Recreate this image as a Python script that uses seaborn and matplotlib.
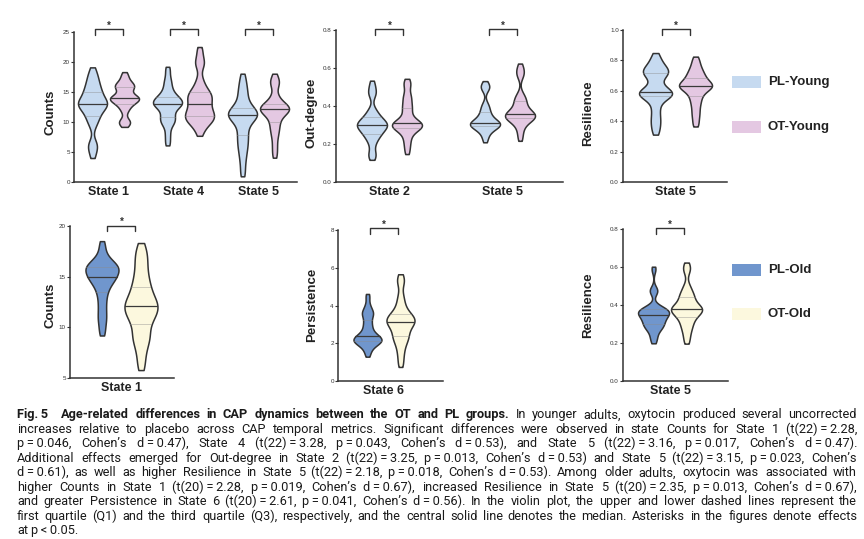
import numpy as np
import pandas as pd
import seaborn as sns
import matplotlib.pyplot as plt
from matplotlib import font_manager
from matplotlib.patches import Rectangle
from matplotlib.transforms import blended_transform_factory

W, H = 864, 539
FONT = ["Liberation Sans", "DejaVu Sans"]
INK = "#333333"

PL_YOUNG, OT_YOUNG = "#c6daf0", "#e4c8e2"
PL_OLD, OT_OLD = "#7096cd", "#fcf8de"

# values: one list per state, PL and OT groups
young_counts_states = ["State 1", "State 4", "State 5"]
young_counts_pl = [
    [4.5, 6.0, 6.3, 9.5, 10.5, 11.0, 11.8, 12.3, 12.7, 12.9, 13.0, 13.2, 13.5, 13.9, 14.5, 15.0, 15.4, 16.0, 16.8, 17.5, 18.6],
    [6.5, 8.0, 9.5, 10.0, 10.5, 10.8, 11.5, 12.2, 12.6, 12.9, 13.0, 13.2, 13.4, 13.6, 13.9, 14.2, 14.6, 15.3, 16.2, 17.2, 18.8],
    [1.5, 3.5, 5.0, 6.0, 7.0, 7.8, 8.8, 9.8, 10.5, 10.8, 11.1, 11.2, 11.4, 11.6, 12.0, 12.3, 13.0, 14.0, 15.0, 16.0, 17.5],
]
young_counts_ot = [
    [9.5, 10.0, 10.2, 11.8, 12.5, 13.0, 13.3, 13.6, 13.8, 13.9, 14.0, 14.1, 14.3, 14.8, 15.5, 15.8, 16.0, 16.2, 16.5, 17.2, 18.0],
    [8.2, 9.5, 10.0, 10.3, 10.6, 11.0, 11.2, 11.5, 12.0, 12.5, 13.0, 13.5, 14.0, 14.3, 14.7, 15.0, 15.8, 17.0, 19.5, 20.2, 22.0],
    [4.5, 6.0, 7.5, 8.5, 9.3, 10.0, 10.8, 11.3, 11.7, 11.9, 12.1, 12.2, 12.3, 12.5, 12.8, 13.0, 13.6, 14.5, 16.3, 16.6, 17.6],
]

young_outdeg_states = ["State 2", "State 5"]
young_outdeg_pl = [
    [0.13, 0.15, 0.20, 0.23, 0.245, 0.255, 0.27, 0.28, 0.29, 0.295, 0.30, 0.305, 0.31, 0.32, 0.33, 0.34, 0.36, 0.38, 0.46, 0.48, 0.52],
    [0.22, 0.25, 0.27, 0.28, 0.29, 0.294, 0.30, 0.303, 0.306, 0.309, 0.312, 0.32, 0.33, 0.34, 0.355, 0.37, 0.39, 0.41, 0.49, 0.50, 0.52],
]
young_outdeg_ot = [
    [0.16, 0.20, 0.23, 0.26, 0.275, 0.285, 0.29, 0.295, 0.30, 0.305, 0.308, 0.31, 0.32, 0.34, 0.37, 0.39, 0.41, 0.44, 0.46, 0.51, 0.53],
    [0.23, 0.27, 0.30, 0.32, 0.33, 0.335, 0.34, 0.345, 0.35, 0.355, 0.358, 0.365, 0.375, 0.39, 0.41, 0.426, 0.44, 0.46, 0.56, 0.58, 0.61],
]

young_resil_states = ["State 5"]
young_resil_pl = [
    [0.33, 0.38, 0.42, 0.47, 0.52, 0.568, 0.57, 0.575, 0.58, 0.585, 0.595, 0.61, 0.64, 0.69, 0.71, 0.72, 0.73, 0.74, 0.76, 0.79, 0.83],
]
young_resil_ot = [
    [0.38, 0.43, 0.47, 0.51, 0.54, 0.568, 0.59, 0.61, 0.62, 0.627, 0.632, 0.637, 0.645, 0.655, 0.67, 0.687, 0.70, 0.72, 0.74, 0.77, 0.81],
]

old_counts_states = ["State 1"]
old_counts_pl = [
    [9.5, 10.5, 11.2, 12.0, 12.8, 13.5, 14.0, 14.4, 14.7, 14.9, 15.0, 15.3, 15.5, 15.7, 15.9, 16.0, 16.1, 16.3, 16.6, 17.2, 18.2],
]
old_counts_ot = [
    [6.2, 7.5, 8.5, 9.0, 9.5, 10.3, 10.8, 11.2, 11.5, 11.8, 12.1, 12.3, 12.6, 13.0, 13.5, 14.0, 14.6, 15.3, 16.2, 17.0, 17.9],
]

old_persist_states = ["State 6"]
old_persist_pl = [
    [1.4, 1.7, 1.9, 2.0, 2.05, 2.1, 2.15, 2.2, 2.25, 2.3, 2.37, 2.45, 2.6, 2.8, 3.0, 3.22, 3.5, 3.6, 3.7, 4.0, 4.5],
]
old_persist_ot = [
    [0.9, 1.4, 1.8, 2.1, 2.3, 2.37, 2.6, 2.8, 2.95, 3.05, 3.13, 3.2, 3.3, 3.35, 3.45, 3.57, 3.8, 4.1, 4.5, 5.2, 5.5],
]

old_resil_states = ["State 5"]
old_resil_pl = [
    [0.21, 0.24, 0.27, 0.28, 0.29, 0.30, 0.31, 0.32, 0.33, 0.34, 0.347, 0.355, 0.36, 0.365, 0.37, 0.377, 0.38, 0.39, 0.47, 0.48, 0.59],
]
old_resil_ot = [
    [0.21, 0.25, 0.28, 0.30, 0.32, 0.338, 0.35, 0.36, 0.37, 0.375, 0.379, 0.385, 0.39, 0.40, 0.42, 0.44, 0.45, 0.47, 0.50, 0.58, 0.61],
]

CAPTION = [
    [("Fig.~5", True), ("Age-related differences in CAP dynamics between the OT and PL groups.", True),
     ("In younger adults, oxytocin produced several uncorrected", False)],
    [("increases relative to placebo across CAP temporal metrics. Significant differences were observed in state Counts for State 1 (t(22)~=~2.28,", False)],
    [("p~=~0.046, Cohen\u2019s d~=~0.47), State 4 (t(22)~=~3.28, p~=~0.043, Cohen\u2019s d~=~0.53), and State 5 (t(22)~=~3.16, p~=~0.017, Cohen\u2019s d~=~0.47).", False)],
    [("Additional effects emerged for Out-degree in State 2 (t(22)~=~3.25, p~=~0.013, Cohen\u2019s d~=~0.53) and State 5 (t(22)~=~3.15, p~=~0.023, Cohen\u2019s", False)],
    [("d~=~0.61), as well as higher Resilience in State 5 (t(22)~=~2.18, p~=~0.018, Cohen\u2019s d~=~0.53). Among older adults, oxytocin was associated with", False)],
    [("higher Counts in State 1 (t(20)~=~2.28, p~=~0.019, Cohen\u2019s d~=~0.67), increased Resilience in State 5 (t(20)~=~2.35, p~=~0.013, Cohen\u2019s d~=~0.67),", False)],
    [("and greater Persistence in State 6 (t(20)~=~2.61, p~=~0.041, Cohen\u2019s d~=~0.56). In the violin plot, the upper and lower dashed lines represent the", False)],
    [("first quartile (Q1) and the third quartile (Q3), respectively, and the central solid line denotes the median. Asterisks in the figures denote effects", False)],
    [("at p~<~0.05.", False)],
]


def pick_caption_font():
    # a narrower sans keeps the caption at its real size
    for name in ["Liberation Sans Narrow", "Roboto", "Liberation Sans"]:
        try:
            font_manager.findfont(name, fallback_to_default=False)
            return [name, "DejaVu Sans"]
        except ValueError:
            continue
    return FONT


def px_axes(fig, left, right, bottom, top):
    return fig.add_axes([left / W, 1 - bottom / H, (right - left) / W, (bottom - top) / H])


def style_inner(ax):
    # seaborn draws q1 / median / q3 per violin; median solid, quartiles dotted
    for i, line in enumerate(ax.lines):
        if i % 3 == 1:
            line.set_linestyle("-")
            line.set_color("#3a3a3a")
            line.set_linewidth(0.9)
        else:
            line.set_linestyle((0, (1.2, 1.2)))
            line.set_color("#8c8c8c")
            line.set_linewidth(0.6)


def draw_panel(fig, box, xlim, states, pl, ot, colors, ylim, yticks, yfmt,
               ylabel, label_xy, offset_px, violin_px, bracket_px, star_y):
    left, right, bottom, top = box
    ax = px_axes(fig, left, right, bottom, top)
    ppu = (right - left) / (xlim[1] - xlim[0])

    rows = []
    for s, a, b in zip(states, pl, ot):
        rows += [(s, "PL", v) for v in a]
        rows += [(s, "OT", v) for v in b]
    df = pd.DataFrame(rows, columns=["state", "group", "value"])

    sns.violinplot(data=df, x="state", y="value", hue="group", order=states,
                   hue_order=["PL", "OT"], palette={"PL": colors[0], "OT": colors[1]},
                   inner="quart", cut=0.5, bw_adjust=0.5, density_norm="width",
                   width=4 * offset_px / ppu, gap=1 - violin_px / (2 * offset_px),
                   linewidth=1.1, linecolor=INK, saturation=1, legend=False, ax=ax)
    style_inner(ax)

    ax.set_xlim(xlim)
    ax.set_ylim(ylim)
    ax.set_yticks(yticks)
    ax.set_yticklabels([yfmt.format(t) for t in yticks])
    ax.set_xlabel("")
    ax.set_ylabel("")
    for side in ["top", "right"]:
        ax.spines[side].set_visible(False)
    for side in ["left", "bottom"]:
        ax.spines[side].set_linewidth(1.1)
        ax.spines[side].set_color(INK)
    ax.tick_params(axis="y", length=2, width=0.8, pad=1, labelsize=4.5, color=INK, labelcolor=INK)
    ax.tick_params(axis="x", length=0, pad=3, labelsize=9, labelcolor="#222222")
    for lab in ax.get_xticklabels():
        lab.set_fontweight("bold")

    fig.text(label_xy[0] / W, 1 - label_xy[1] / H, ylabel, rotation=90, ha="center",
             va="center", fontsize=9.5, fontweight="bold", color="#222222")

    # significance brackets above each state
    trans = blended_transform_factory(ax.transData, ax.transAxes)

    def frac(y):
        return (bottom - y) / (bottom - top)

    yb, yl = bracket_px
    for i in range(len(states)):
        x0, x1 = i - 14 / ppu, i + 14 / ppu
        ax.plot([x0, x0, x1, x1], [frac(yl), frac(yb), frac(yb), frac(yl)], transform=trans,
                color=INK, lw=1.0, clip_on=False)
        ax.text(i, frac(star_y), "*", transform=trans, ha="center", va="baseline",
                fontsize=7, fontweight="bold", color=INK, clip_on=False)
    return ax


def draw_legend(fig, items):
    for label, color, y in items:
        fig.add_artist(Rectangle((732 / W, 1 - (y + 6) / H), 29 / W, 12 / H,
                                 transform=fig.transFigure, facecolor=color, edgecolor="none"))
        fig.text(768 / W, 1 - y / H, label, ha="left", va="center", fontsize=9.5,
                 fontweight="bold", color="#222222")


def draw_caption(fig, lines, x0, x1, base0, step, size, family):
    renderer = fig.canvas.get_renderer()
    rows = []
    for segs in lines:
        texts = []
        for text, bold in segs:
            for word in text.split(" "):
                texts.append(fig.text(0, 0, word.replace("~", "\u2009"), fontsize=size,
                                      fontweight="bold" if bold else "normal", family=family,
                                      ha="left", va="baseline", color="#1a1a1a"))
        rows.append(texts)

    target = x1 - x0
    space = 0.25 * size * 100 / 72

    def widths(texts):
        return [t.get_window_extent(renderer).width for t in texts]

    scale = 1.0
    for texts in rows[:-1]:
        need = sum(widths(texts)) + space * (len(texts) - 1)
        scale = min(scale, target / need)
    if scale < 1:
        for texts in rows:
            for t in texts:
                t.set_fontsize(size * scale)
        space *= scale

    for k, texts in enumerate(rows):
        ws = widths(texts)
        extra = [7 if t.get_text().startswith("Fig.") else 0 for t in texts]
        if k < len(rows) - 1:
            gap = (target - sum(ws) - sum(extra)) / (len(texts) - 1)
        else:
            gap = space
        x = x0
        y = base0 + k * step
        for t, w, e in zip(texts, ws, extra):
            t.set_position((x / W, 1 - y / H))
            x += w + gap + e


sns.set_style("ticks")
plt.rcParams["font.family"] = FONT

fig = plt.figure(figsize=(W / 100, H / 100), dpi=100)
fig.patch.set_facecolor("white")

top_brk, top_star = (29, 35), 28.5
draw_panel(fig, (74, 297, 182, 32), (-0.46, 2.513), young_counts_states, young_counts_pl,
           young_counts_ot, (PL_YOUNG, OT_YOUNG), (0, 25), [0, 5, 10, 15, 20, 25], "{:.0f}",
           "Counts", (50, 112), 16, 29, top_brk, top_star)
draw_panel(fig, (336, 563, 182, 30), (-0.473, 1.535), young_outdeg_states, young_outdeg_pl,
           young_outdeg_ot, (PL_YOUNG, OT_YOUNG), (0, 0.8), [0, 0.2, 0.4, 0.6, 0.8], "{:.1f}",
           "Out-degree", (312, 113), 17.5, 30, top_brk, top_star)
draw_panel(fig, (623, 727, 182, 30), (-0.505, 0.495), young_resil_states, young_resil_pl,
           young_resil_ot, (PL_YOUNG, OT_YOUNG), (0, 1.0), [0, 0.2, 0.4, 0.6, 0.8, 1.0], "{:.1f}",
           "Resilience", (588, 113), 20, 33, top_brk, top_star)

draw_panel(fig, (70, 174, 378, 226), (-0.495, 0.505), old_counts_states, old_counts_pl,
           old_counts_ot, (PL_OLD, OT_OLD), (5, 20), [5, 10, 15, 20], "{:.0f}",
           "Counts", (50, 305), 19.5, 33, (225.7, 231), 224.5)
draw_panel(fig, (338, 443, 381, 230), (-0.438, 0.562), old_persist_states, old_persist_pl,
           old_persist_ot, (PL_OLD, OT_OLD), (0, 8), [0, 2, 4, 6, 8], "{:.0f}",
           "Persistence", (312, 305), 16.5, 28, (228, 234), 227.5)
draw_panel(fig, (623, 728, 381, 229), (-0.448, 0.552), old_resil_states, old_resil_pl,
           old_resil_ot, (PL_OLD, OT_OLD), (0, 0.8), [0, 0.2, 0.4, 0.6, 0.8], "{:.1f}",
           "Resilience", (588, 305), 16.5, 31, (228, 234), 227.5)

draw_legend(fig, [("PL-Young", PL_YOUNG, 82), ("OT-Young", OT_YOUNG, 127),
                  ("PL-Old", PL_OLD, 270), ("OT-Old", OT_OLD, 314)])

draw_caption(fig, CAPTION, 17, 857, 418.3, 14.5, 9.2, pick_caption_font())

fig.savefig("out.png", dpi=100, facecolor="white")
